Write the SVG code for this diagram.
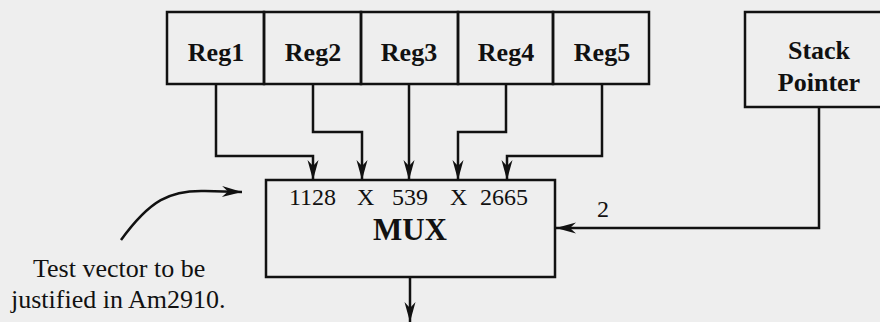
<svg xmlns="http://www.w3.org/2000/svg" width="880" height="322" viewBox="0 0 880 322">
<style>
.box{fill:none;stroke:#111;stroke-width:2.5}
.ln{fill:none;stroke:#111;stroke-width:2.5;stroke-linejoin:miter}
.b{font-family:"Liberation Serif","Times New Roman",serif;font-weight:bold;fill:#111;text-anchor:middle}
.r{font-family:"Liberation Serif","Times New Roman",serif;fill:#111}
</style>
<defs>
<marker id="ah" viewBox="-22 -7 24 14" markerWidth="24" markerHeight="14" refX="0" refY="0" markerUnits="userSpaceOnUse" orient="auto">
<path d="M0,0 L-20,-5.5 L-14,0 L-20,5.5 Z" fill="#111"/>
</marker>
</defs>
<rect width="880" height="322" fill="#eeeeee"/>
<g id="reg1"><rect class="box" x="167" y="12" width="97" height="72"/><text class="b" x="216" y="61" font-size="26">Reg1</text></g>
<g id="reg2"><rect class="box" x="264" y="12" width="97" height="72"/><text class="b" x="313" y="61" font-size="26">Reg2</text></g>
<g id="reg3"><rect class="box" x="361" y="12" width="97" height="72"/><text class="b" x="409" y="61" font-size="26">Reg3</text></g>
<g id="reg4"><rect class="box" x="458" y="12" width="95" height="72"/><text class="b" x="506" y="61" font-size="26">Reg4</text></g>
<g id="reg5"><rect class="box" x="553" y="12" width="96" height="72"/><text class="b" x="602" y="61" font-size="26">Reg5</text></g>
<g id="stack"><rect class="box" x="745" y="12" width="148" height="95"/><text class="b" x="819" y="59" font-size="26">Stack</text><text class="b" x="819" y="91" font-size="26">Pointer</text></g>
<g id="mux"><rect class="box" x="266" y="180" width="289" height="97"/>
<text class="r" y="205" font-size="24"><tspan x="289">1128</tspan><tspan x="357">X</tspan><tspan x="392">539</tspan><tspan x="450">X</tspan><tspan x="480">2665</tspan></text>
<text class="b" x="410" y="240" font-size="31">MUX</text></g>
<g id="note"><text class="r" x="33" y="277" font-size="26">Test vector to be</text><text class="r" x="11" y="308" font-size="26">justified in Am2910.</text></g>
<g id="connectors">
<path class="ln" d="M216,84 V156 H313 V180" marker-end="url(#ah)"/>
<path class="ln" d="M313,84 V132 H362 V180" marker-end="url(#ah)"/>
<path class="ln" d="M409,84 V180" marker-end="url(#ah)"/>
<path class="ln" d="M506,84 V132 H458 V180" marker-end="url(#ah)"/>
<path class="ln" d="M602,84 V156 H507 V180" marker-end="url(#ah)"/>
<path class="ln" d="M819,107 V228 H556" marker-end="url(#ah)"/>
<text class="r" x="597" y="217" font-size="24">2</text>
<path class="ln" d="M410,277 V322" marker-end="url(#ah)"/>
<path class="ln" d="M121,240 C150,200 170,190 205,191 L242,192" marker-end="url(#ah)"/>
</g>
</svg>
